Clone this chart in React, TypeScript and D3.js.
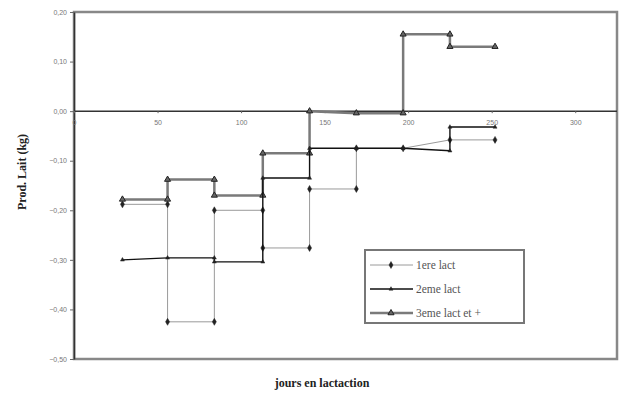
import React, { useEffect, useRef } from 'react'
import * as d3 from 'd3'

// test days (x) and milk production deviation (y) for each lactation group
const lact1Days = [29, 56, 56, 84, 84, 113, 113, 141, 141, 169, 169, 197, 225, 252]
const lact1Vals = [-0.188, -0.188, -0.425, -0.425, -0.2, -0.2, -0.276, -0.276, -0.157, -0.157, -0.075, -0.075, -0.058, -0.058]

const lact2Days = [29, 56, 84, 84, 113, 113, 141, 141, 169, 197, 225, 225, 252]
const lact2Vals = [-0.3, -0.296, -0.296, -0.304, -0.304, -0.135, -0.135, -0.075, -0.075, -0.075, -0.08, -0.032, -0.032]

const lact3Days = [29, 56, 56, 84, 84, 113, 113, 141, 141, 169, 197, 197, 225, 225, 252]
const lact3Vals = [-0.178, -0.178, -0.138, -0.138, -0.17, -0.17, -0.085, -0.085, 0, -0.004, -0.004, 0.155, 0.155, 0.13, 0.13]

const seriesNames = ['1ere lact', '2eme lact', '3eme lact et +']
const xTicks = [0, 50, 100, 150, 200, 250, 300]
const yTicks = [0.2, 0.1, 0, -0.1, -0.2, -0.3, -0.4, -0.5]

export default function App() {
  const ref = useRef<SVGSVGElement>(null)

  useEffect(() => {
    const svg = d3.select(ref.current)
    svg.selectAll('*').remove()

    const left = 74, right = 617, top = 12, bottom = 359
    const x = d3.scaleLinear().domain([0, 325]).range([left, right])
    const y = d3.scaleLinear().domain([-0.5, 0.2]).range([bottom, top])

    // frame
    svg.append('rect')
      .attr('x', left).attr('y', top)
      .attr('width', right - left).attr('height', bottom - top)
      .attr('fill', 'white').attr('stroke', '#888').attr('stroke-width', 2.5)

    // y axis
    const yAxis = svg.append('g').attr('transform', `translate(${left},0)`)
      .call(d3.axisLeft(y).tickValues(yTicks).tickSize(4).tickSizeOuter(0)
        .tickFormat(d => d3.format('.2f')(d as number).replace('.', ',')))
    yAxis.select('.domain').attr('stroke', '#333').attr('stroke-width', 1.5)
    yAxis.selectAll('line').attr('stroke', '#666')
    yAxis.selectAll('text').attr('fill', '#777').attr('font-size', 7)
      .attr('font-family', 'Liberation Sans, Arial, sans-serif')

    // x axis along zero
    const xAxis = svg.append('g').attr('transform', `translate(0,${y(0)})`)
      .call(d3.axisBottom(x).tickValues(xTicks).tickSize(2).tickSizeOuter(0).tickFormat(d3.format('d')))
    xAxis.select('.domain').attr('d', `M${left},0H${right}`).attr('stroke', '#333').attr('stroke-width', 1.5)
    xAxis.selectAll('line').attr('stroke', '#666')
    xAxis.selectAll('text').attr('fill', '#777').attr('font-size', 7).attr('dy', '1.2em')
      .attr('font-family', 'Liberation Sans, Arial, sans-serif')

    const line = d3.line<[number, number]>().x(d => x(d[0])).y(d => y(d[1]))

    const series = [
      { days: lact1Days, vals: lact1Vals, color: '#9a9a9a', width: 1, marker: 'diamond' },
      { days: lact3Days, vals: lact3Vals, color: '#7a7a7a', width: 2.5, marker: 'triangle' },
      { days: lact2Days, vals: lact2Vals, color: '#111', width: 1.4, marker: 'small' },
    ]

    const markerPath = (m: string) => {
      if (m === 'diamond') return d3.symbol(d3.symbolDiamond, 14)()
      if (m === 'triangle') return d3.symbol(d3.symbolTriangle, 16)()
      return d3.symbol(d3.symbolTriangle, 7)()
    }

    series.forEach(s => {
      const pts = s.days.map((d, i) => [d, s.vals[i]] as [number, number])
      svg.append('path').datum(pts).attr('d', line)
        .attr('fill', 'none').attr('stroke', s.color).attr('stroke-width', s.width)
      svg.append('g').selectAll('path').data(pts).enter().append('path')
        .attr('d', markerPath(s.marker))
        .attr('transform', d => `translate(${x(d[0])},${y(d[1])})`)
        .attr('fill', s.marker === 'triangle' ? '#666' : '#222')
        .attr('stroke', '#222').attr('stroke-width', s.marker === 'triangle' ? 1 : 0.5)
    })

    // legend
    const lg = svg.append('g')
    lg.append('rect').attr('x', 365).attr('y', 250).attr('width', 159).attr('height', 73)
      .attr('fill', 'white').attr('stroke', '#777').attr('stroke-width', 2)
    const legendStyles = [series[0], series[2], series[1]]
    seriesNames.forEach((name, i) => {
      const ly = 265 + i * 24
      const s = legendStyles[i]
      lg.append('line').attr('x1', 370).attr('x2', 413).attr('y1', ly).attr('y2', ly)
        .attr('stroke', s.color).attr('stroke-width', s.width)
      lg.append('path').attr('d', markerPath(s.marker))
        .attr('transform', `translate(391,${ly})`)
        .attr('fill', s.marker === 'triangle' ? '#666' : '#222').attr('stroke', '#222')
        .attr('stroke-width', s.marker === 'triangle' ? 1 : 0.5)
      lg.append('text').attr('x', 416).attr('y', ly + 4).text(name)
        .attr('font-family', 'Liberation Serif, Times New Roman, serif')
        .attr('font-size', 11.5).attr('fill', '#555')
    })

    // titles
    svg.append('text').attr('transform', 'translate(26,172) rotate(-90)')
      .attr('text-anchor', 'middle').attr('font-family', 'Liberation Serif, serif')
      .attr('font-weight', 'bold').attr('font-size', 12).attr('fill', '#222')
      .text('Prod. Lait (kg)')
    svg.append('text').attr('x', 322).attr('y', 387)
      .attr('text-anchor', 'middle').attr('font-family', 'Liberation Serif, serif')
      .attr('font-weight', 'bold').attr('font-size', 12).attr('fill', '#222')
      .text('jours en lactaction')
  }, [])

  return (
    <svg ref={ref} width={622} height={394}
      style={{ position: 'absolute', left: 0, top: 0, background: 'white' }} />
  )
}
